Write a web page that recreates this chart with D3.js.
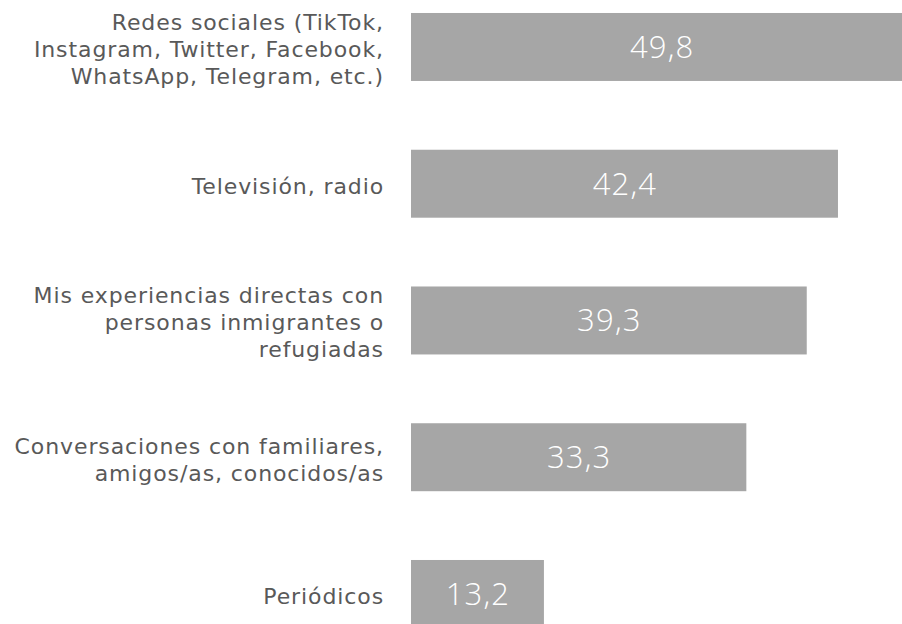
<!DOCTYPE html>
<html>
<head>
<meta charset="utf-8">
<script src="https://cdn.jsdelivr.net/npm/d3@7"></script>
<style>
  html, body { margin: 0; padding: 0; background: #fff; overflow: hidden; }
  svg { display: block; }
</style>
</head>
<body>
<svg id="chart" width="902" height="624"></svg>
<script>
// Source categories (label lines) and percentages
const categories = [
  ["Redes sociales (TikTok,", "Instagram, Twitter, Facebook,", "WhatsApp, Telegram, etc.)"],
  ["Televisión, radio"],
  ["Mis experiencias directas con", "personas inmigrantes o", "refugiadas"],
  ["Conversaciones con familiares,", "amigos/as, conocidos/as"],
  ["Periódicos"]
];
const values = [49.8, 42.4, 39.3, 33.3, 13.2];
const valueLabels = ["49,8", "42,4", "39,3", "33,3", "13,2"];

const svg = d3.select("#chart");
const keys = categories.map((c, i) => i);

const y = d3.scaleBand()
  .domain(keys)
  .range([-21.4, 662.35])
  .paddingInner(0.503)
  .paddingOuter(0.2515);

const x = d3.scaleLinear()
  .domain([0, 50])
  .range([411, 914.5]);

const labelFont = "'DejaVu Sans', 'Open Sans', sans-serif";
const valueFont = "'Open Sans', 'DejaVu Sans', sans-serif";

const rows = svg.selectAll("g.row")
  .data(keys)
  .join("g")
  .attr("class", "row");

rows.append("rect")
  .attr("x", x(0))
  .attr("y", i => y(i))
  .attr("width", i => x(values[i]) - x(0))
  .attr("height", y.bandwidth())
  .attr("fill", "#a6a6a6");

rows.append("text")
  .attr("x", i => (x(0) + x(values[i])) / 2 + 0.5)
  .attr("y", i => y(i) + y.bandwidth() / 2)
  .attr("dy", "0.35em")
  .attr("text-anchor", "middle")
  .attr("fill", "#ffffff")
  .attr("font-family", valueFont)
  .attr("font-weight", 300)
  .attr("font-size", 31)
  .attr("letter-spacing", 1.2)
  .text(i => valueLabels[i]);

const lineH = 27;
rows.append("text")
  .attr("text-anchor", "end")
  .attr("fill", "#595959")
  .attr("font-family", labelFont)
  .attr("font-size", 22)
  .attr("letter-spacing", 0.9)
  .each(function (i) {
    const lines = categories[i];
    const cy = y(i) + y.bandwidth() / 2;
    const t = d3.select(this);
    lines.forEach((ln, k) => {
      t.append("tspan")
        .attr("x", 384)
        .attr("y", cy + (k - (lines.length - 1) / 2) * lineH + 10)
        .text(ln);
    });
  });
</script>
</body>
</html>
